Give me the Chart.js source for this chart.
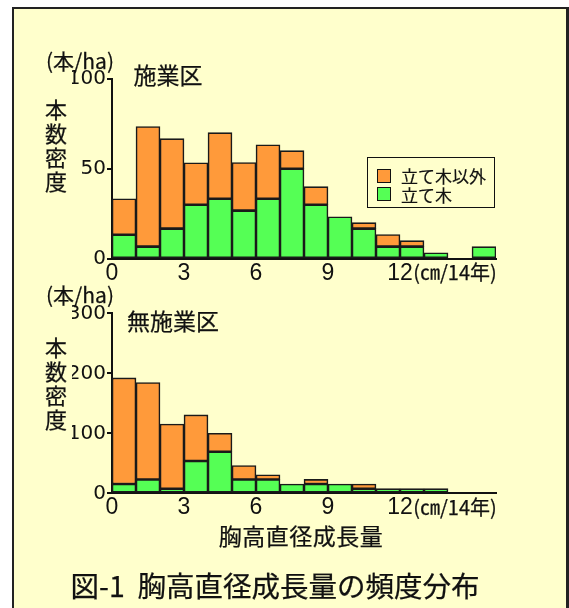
<!DOCTYPE html>
<html>
<head>
<meta charset="utf-8">
<script src="https://cdn.jsdelivr.net/npm/chart.js@4.4.1/dist/chart.umd.min.js"></script>
<style>
  html, body { margin: 0; padding: 0; background: #fff; }
  #page { position: relative; width: 569px; height: 608px; overflow: hidden; background: #fff; }
  #frame { position: absolute; left: 12px; top: 7px; width: 552px; height: 640px;
           background: #ffffcc; border-left: 2px solid #222; border-top: 2px solid #222; border-right: 3px solid #222; }
  canvas { position: absolute; left: 0; top: 0; }
  .t { position: absolute; color: #111; font-family: "Noto Sans CJK JP", sans-serif; white-space: nowrap;
       line-height: 1; transform: translate(-50%, -50%); -webkit-text-stroke: 0.25px #111; }
  .v { position: absolute; color: #111; font-family: "Noto Sans CJK JP", sans-serif; width: 24px;
       text-align: center; line-height: 24px; font-size: 22px; -webkit-text-stroke: 0.25px #111; }
  #legend { position: absolute; left: 367px; top: 157px; width: 126px; height: 49px;
            border: 1.5px solid #111; background: #ffffcc; }
  .li { position: absolute; left: 9px; height: 17px; display: flex; align-items: center;
        font-family: "Noto Sans CJK JP", sans-serif; font-size: 17px; color: #111; white-space: nowrap;
        -webkit-text-stroke: 0.2px #111; }
  .sw { width: 12px; height: 12px; border: 1.5px solid #111; margin-right: 10px; }
</style>
</head>
<body>
<div id="page">
  <div id="frame"></div>
  <canvas id="thinned" width="569" height="608"></canvas>
  <canvas id="unthinned" width="569" height="608"></canvas>

  <div class="t" style="left:80px; top:60px; font-size:21px;">(本/ha)</div>
  <div class="t" style="left:168px; top:74px; font-size:23px;">施業区</div>
  <div class="v" style="left:44px; top:96px;">本<br>数<br>密<br>度</div>
  <div class="t" style="left:455px; top:272px; font-size:20px;">(㎝/14年)</div>

  <div class="t" style="left:80px; top:294px; font-size:21px;">(本/ha)</div>
  <div class="t" style="left:173px; top:320px; font-size:23px;">無施業区</div>
  <div class="v" style="left:44px; top:334px;">本<br>数<br>密<br>度</div>
  <div class="t" style="left:455px; top:507px; font-size:20px;">(㎝/14年)</div>

  <div class="t" style="left:301px; top:535px; font-size:23px; letter-spacing:0.5px;">胸高直径成長量</div>
  <div class="t" style="left:275px; top:585px; font-size:28.5px;">図-1&nbsp;&nbsp;胸高直径成長量の頻度分布</div>

  <div id="legend"></div>
</div>

<script>
// Growth classes: 1 cm bins, plotted at their mid points (cm / 14 years)
const binMids = [0.5, 1.5, 2.5, 3.5, 4.5, 5.5, 6.5, 7.5, 8.5, 9.5, 10.5, 11.5, 12.5, 13.5, 14.5, 15.5];
const xTickValues = [0, 3, 6, 9, 12];

const seriesNames = ['立て木', '立て木以外'];
const seriesColors = ['#55ff55', '#ff9a3a'];

// 施業区 (stems/ha)
const thinnedStanding = [13.3, 6.7, 16.7, 30, 33.3, 26.7, 33.3, 50, 30, 23.3, 16.7, 6.7, 6.7, 3.3, null, 6.7];
const thinnedOther    = [20, 66.7, 50, 23.3, 36.7, 26.7, 30, 10, 10, null, 3.3, 6.7, 3.3, null, null, null];
const thinnedYTicks   = [0, 50, 100];

// 無施業区 (stems/ha)
const unthinnedStanding = [15.4, 23.1, 7.7, 53.8, 69.2, 23.1, 23.1, 15.4, 15.4, 15.4, 7.7, 7.7, 7.7, 7.7, null, null];
const unthinnedOther    = [176.9, 161.5, 107.7, 76.9, 30.8, 23.1, 7.7, null, 7.7, null, 7.7, null, null, null, null, null];
const unthinnedYTicks   = [0, 100, 200, 300];

const PAGE_W = 569, PAGE_H = 608;
const AREA_LEFT = 112, AREA_RIGHT = 496;
const Y_W = 40, X_H = 30;
const INK = '#111';

function makeChart(id, standing, other, yTicks, areaTop, areaBottom) {
  const series = [standing, other];
  return new Chart(document.getElementById(id), {
    type: 'bar',
    data: {
      datasets: series.map((vals, k) => ({
        label: seriesNames[k],
        data: binMids.map((x, i) => ({ x: x, y: vals[i] })),
        backgroundColor: seriesColors[k],
        borderColor: '#1a1a1a',
        borderWidth: 1.6,
        borderSkipped: false,
        barPercentage: 1,
        categoryPercentage: 1
      }))
    },
    options: {
      responsive: false,
      animation: false,
      devicePixelRatio: 1,
      layout: {
        padding: {
          left: AREA_LEFT - Y_W,
          right: PAGE_W - AREA_RIGHT,
          top: areaTop,
          bottom: PAGE_H - areaBottom - X_H
        }
      },
      plugins: { legend: { display: false }, tooltip: { enabled: false } },
      scales: {
        x: {
          type: 'linear', min: 0, max: 16, offset: false, stacked: true,
          afterBuildTicks: s => { s.ticks = xTickValues.map(v => ({ value: v })); },
          afterFit: s => { s.height = X_H; },
          grid: { display: false, drawTicks: false, offset: false },
          border: { display: true, color: INK, width: 2 },
          ticks: { padding: 1, maxRotation: 0, autoSkip: false, color: INK,
                   font: { family: 'Liberation Sans Narrow, Liberation Sans, sans-serif', size: 23 } }
        },
        y: {
          min: 0, max: yTicks[yTicks.length - 1], stacked: true,
          afterBuildTicks: s => { s.ticks = yTicks.map(v => ({ value: v })); },
          afterFit: s => { s.width = Y_W; },
          grid: { display: true, drawOnChartArea: false, drawTicks: true, tickLength: 5, color: INK, lineWidth: 2 },
          border: { display: true, color: INK, width: 2 },
          ticks: { padding: 1, color: INK, font: { family: 'DejaVu Sans, sans-serif', size: 20 } }
        }
      }
    }
  });
}

const thinnedChart = makeChart('thinned', thinnedStanding, thinnedOther, thinnedYTicks, 78.7, 258.7);
makeChart('unthinned', unthinnedStanding, unthinnedOther, unthinnedYTicks, 313.3, 493.3);

// Legend: top stack segment listed first
const legend = document.getElementById('legend');
thinnedChart.data.datasets.slice().reverse().forEach((ds, i) => {
  const row = document.createElement('div');
  row.className = 'li';
  row.style.top = (9 + i * 18.5) + 'px';
  const sw = document.createElement('div');
  sw.className = 'sw';
  sw.style.background = ds.backgroundColor;
  const label = document.createElement('span');
  label.textContent = ds.label;
  row.appendChild(sw);
  row.appendChild(label);
  legend.appendChild(row);
});
</script>
</body>
</html>
